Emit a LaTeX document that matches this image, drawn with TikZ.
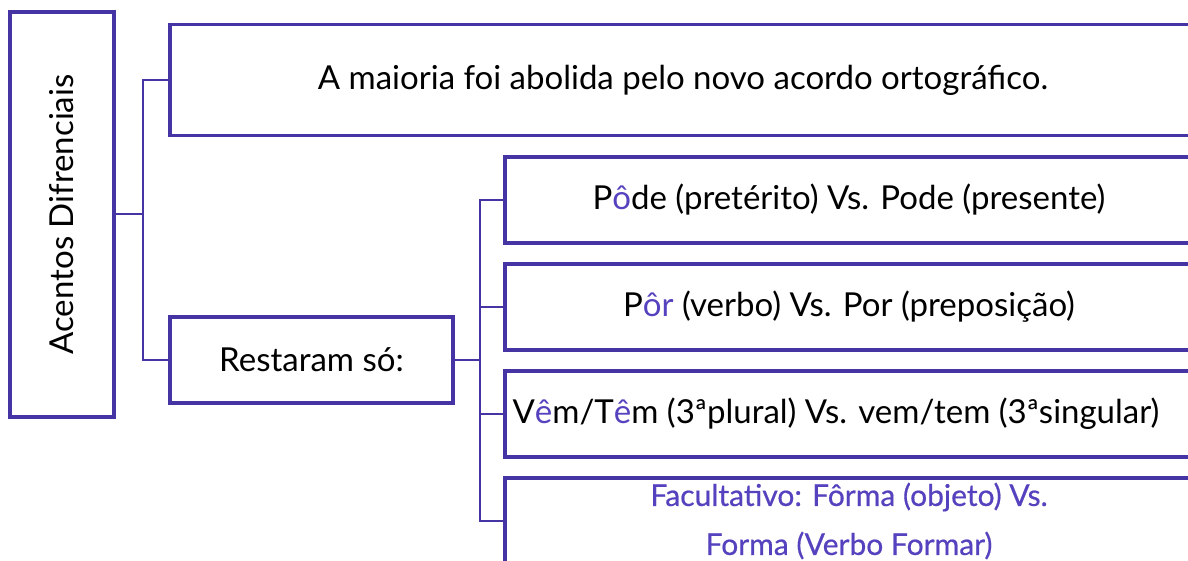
\documentclass[tikz,border=0pt]{standalone}
\usepackage{fontspec}
\setmainfont{Lato}
\newfontfamily\medfont[FakeBold=0.5]{Lato}
\definecolor{bord}{RGB}{68,52,164}
\definecolor{acc}{RGB}{84,66,190}
\begin{document}
\begin{tikzpicture}[x=1pt,y=-1pt,
  box/.style={draw=bord,line width=3.5pt,rectangle,inner sep=0pt,align=center,
    font=\fontsize{33}{40}\selectfont},
  link/.style={draw=bord,line width=2pt}]
\clip (0,0) rectangle (1188,561);
\fill[white] (0,0) rectangle (1188,561);
\node[box, minimum width=104pt, minimum height=405pt] (root) at (62,214.5)
  {\rotatebox{90}{Acentos Difrenciais}};
\node[box, minimum width=1026pt, minimum height=111pt] (top) at (683,80)
  {A maioria foi abolida pelo novo acordo ortográfico.};
\node[box, minimum width=283pt, minimum height=86pt] (rest) at (311.5,360)
  {Restaram só:};
\node[box, minimum width=688pt, minimum height=86pt] (pode) at (849,200)
  {P\textcolor{acc}{ô}de (pretérito) Vs. Pode (presente)};
\node[box, minimum width=688pt, minimum height=86pt] (por) at (849,307)
  {P\textcolor{acc}{ôr} (verbo) Vs. Por (preposição)};
\node[box, minimum width=688pt, minimum height=86pt] (vem) at (849,414)
  {\hspace*{-26pt}V\textcolor{acc}{ê}m/T\textcolor{acc}{ê}m (3ªplural) Vs. vem/tem (3ªsingular)};
\node[box, minimum width=688pt, minimum height=86pt,
  font=\medfont\fontsize{30}{49}\selectfont, text=acc] (fac) at (849,521)
  {Facultativo: Fôrma (objeto) Vs.\\Forma (Verbo Formar)};
\coordinate (j1) at (143,214.5);
\coordinate (j2) at (480,360);
\draw[link] (root.east) -- (j1);
\draw[link] (j1) |- (top.west);
\draw[link] (j1) |- (rest.west);
\draw[link] (rest.east) -- (j2);
\draw[link] (j2) |- (pode.west);
\draw[link] (j2) |- (por.west);
\draw[link] (j2) |- (vem.west);
\draw[link] (j2) |- (fac.west);
\end{tikzpicture}
\end{document}
